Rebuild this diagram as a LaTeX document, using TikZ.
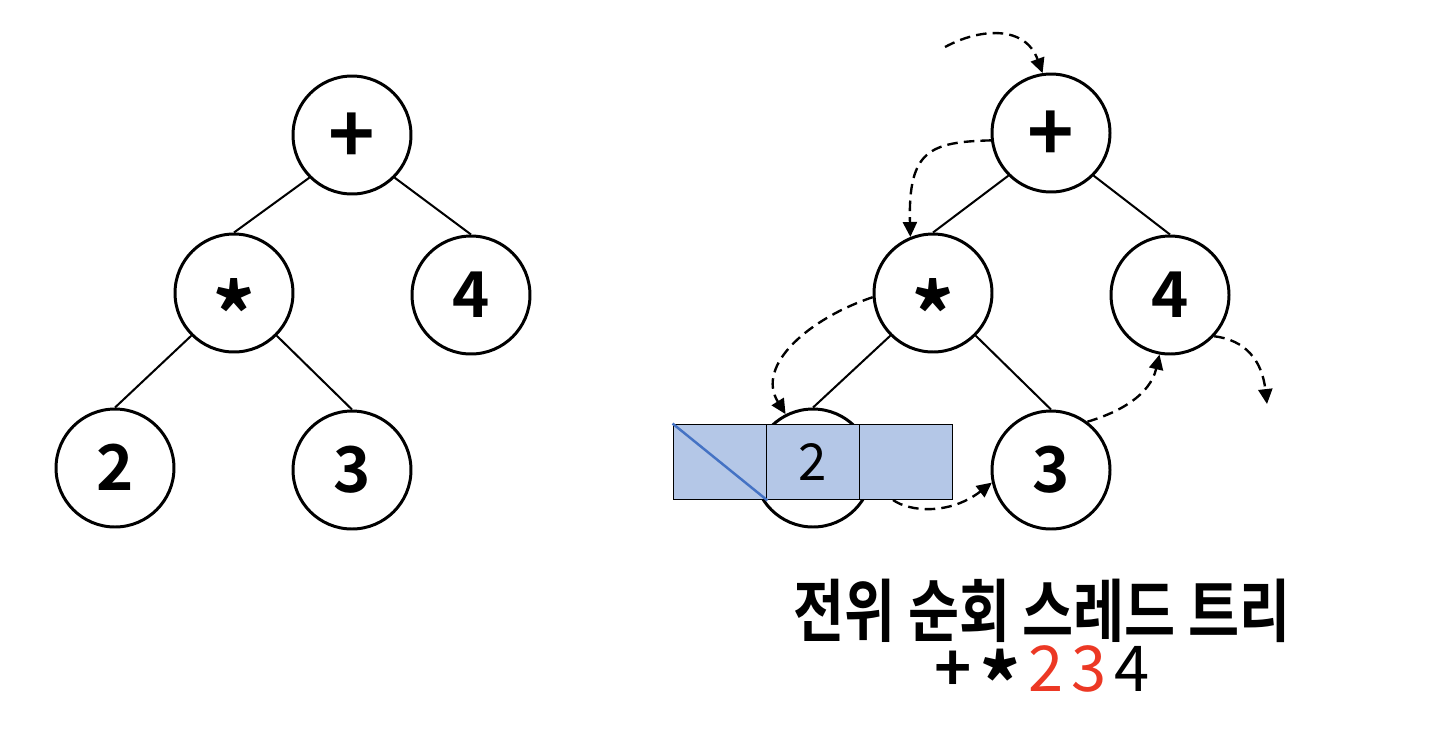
\documentclass[tikz,border=0pt]{standalone}
\usepackage{fontspec}
\setmainfont{Noto Sans CJK KR}[BoldFont={Noto Sans CJK KR Bold}]
\newfontfamily\titlefont[FakeStretch=0.81]{Noto Sans CJK KR Bold}
\usetikzlibrary{arrows.meta}
\definecolor{cellblue}{RGB}{180,199,231}
\definecolor{slashblue}{RGB}{68,114,196}
\definecolor{ordred}{RGB}{236,56,36}
\newcommand{\bigplus}{\raisebox{-0.09em}{\scalebox{1.25}{+}}}
\newcommand{\bigstar}{\raisebox{-0.5em}{\scalebox{1.35}{*}}}

\begin{document}
\begin{tikzpicture}[x=0.02cm, y=-0.02cm,
    vertex/.style={circle, draw, line width=1.7pt, minimum size=2.36cm, inner sep=0pt,
        text height=26pt, text depth=0pt, font=\fontsize{36}{40}\selectfont\bfseries},
    edge/.style={line width=1.15pt},
    cell/.style={draw, fill=cellblue, line width=1.1pt, minimum width=1.86cm,
        minimum height=1.5cm, inner sep=0pt, font=\fontsize{29}{32}\selectfont},
    thread/.style={dash pattern=on 6pt off 3.5pt, line width=1.35pt,
        -{Triangle[length=8.5pt,width=8pt]}},
    caption/.style={inner sep=0pt}]
    \useasboundingbox (0,0) rectangle (1442,748);

    % expression tree
    \node[vertex] (plusL) at (352,135) {\bigplus};
    \node[vertex] (starL) at (234,293) {\bigstar};
    \node[vertex] (fourL) at (471,295) {4};
    \node[vertex] (twoL) at (115,468) {2};
    \node[vertex] (threeL) at (352,470) {3};

    \draw[edge] (plusL.south west) -- (starL.north);
    \draw[edge] (plusL.south east) -- (fourL.north);
    \draw[edge] (starL.south west) -- (twoL.north);
    \draw[edge] (starL.south east) -- (threeL.north);

    % preorder threaded tree
    \node[vertex] (plusR) at (1051,133) {\bigplus};
    \node[vertex] (starR) at (933,293) {\bigstar};
    \node[vertex] (fourR) at (1170,295) {4};
    \node[vertex] (twoR) at (813,468) {};
    \node[vertex] (threeR) at (1051,470) {3};

    \draw[edge] (plusR.south west) -- (starR.north);
    \draw[edge] (plusR.south east) -- (fourR.north);
    \draw[edge] (starR.south west) -- (twoR.north);
    \draw[edge] (starR.south east) -- (threeR.north);

    \node[cell] (cellL) at (720,462) {};
    \node[cell] (cellM) at (813,462) {2};
    \node[cell] (cellR) at (906,462) {};
    \draw[slashblue, line width=1.4pt] (cellL.north west) -- (cellL.south east);

    \coordinate (enter) at (945,47);
    \coordinate (rlink) at (893,500);
    \coordinate (exit) at (1267,404);

    \draw[thread] (enter) .. controls (980,28) and (1025,25) .. (plusR.98);
    \draw[thread] (plusR.187) .. controls (930,142) and (908,150) .. (starR.112);
    \draw[thread] (starR.184) .. controls (810,318) and (755,365) .. (twoR.117);
    \draw[thread] (rlink) .. controls (910,512) and (950,515) .. (threeR.192);
    \draw[thread] (threeR.53) .. controls (1120,412) and (1150,395) .. (fourR.260);
    \draw[thread] (fourR.317) .. controls (1245,340) and (1262,360) .. (exit);

    \node[caption] (title) at (1042,611) {\fontsize{39}{44}\titlefont 전위 순회 스레드 트리};
    \node[caption] (order) at (1042,681) {\fontsize{36}{40}\selectfont
        {\bfseries +}\kern4.5pt{\bfseries\raisebox{-0.38em}{\scalebox{1.3}{*}}}\kern4.5pt{\color{ordred}2\kern4.5pt3}\kern4.5pt4};
\end{tikzpicture}
\end{document}
